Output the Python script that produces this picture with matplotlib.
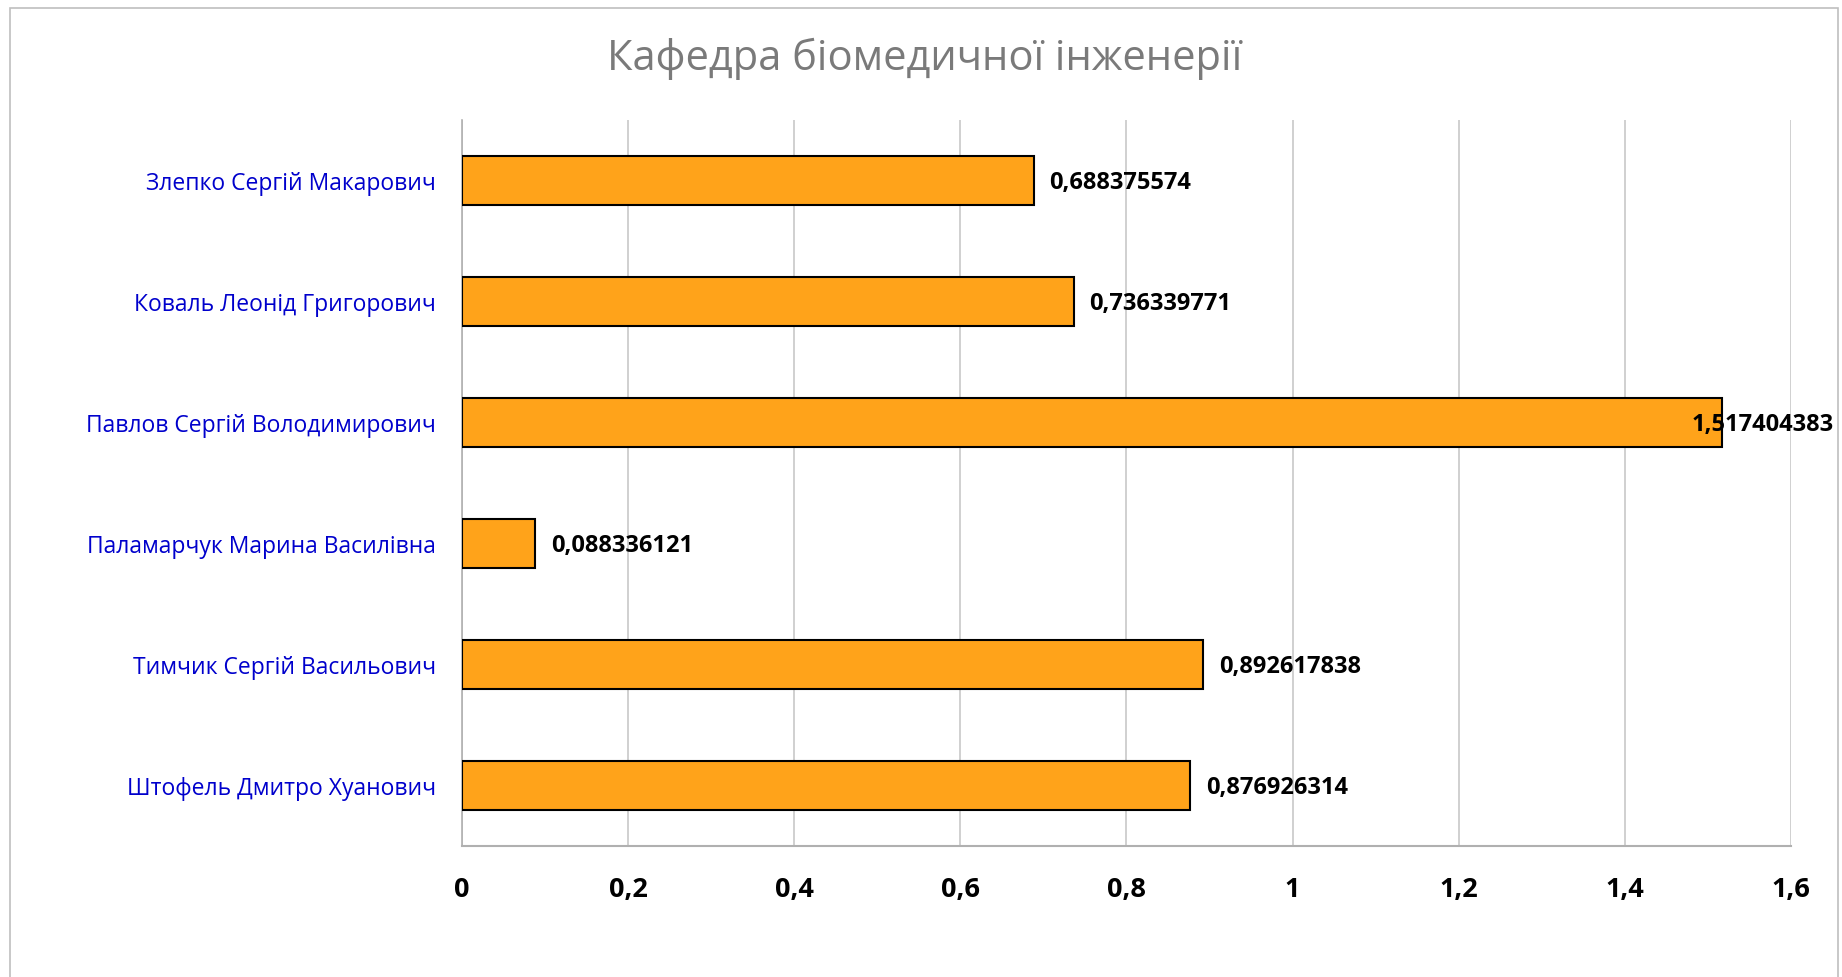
import matplotlib
matplotlib.use("Agg")
import matplotlib.pyplot as plt
from matplotlib.patches import Rectangle

categories = [
    "Злепко Сергій Макарович",
    "Коваль Леонід Григорович",
    "Павлов Сергій Володимирович",
    "Паламарчук Марина Василівна",
    "Тимчик Сергій Васильович",
    "Штофель Дмитро Хуанович",
]
values = [0.688375574, 0.736339771, 1.517404383, 0.088336121, 0.892617838, 0.876926314]
value_labels = ["0,688375574", "0,736339771", "1,517404383", "0,088336121", "0,892617838", "0,876926314"]
xticks = [0, 0.2, 0.4, 0.6, 0.8, 1.0, 1.2, 1.4, 1.6]
xtick_labels = ["0", "0,2", "0,4", "0,6", "0,8", "1", "1,2", "1,4", "1,6"]
title = "Кафедра біомедичної інженерії"

plt.rcParams['font.family'] = ['Open Sans', 'DejaVu Sans']

fig = plt.figure(figsize=(18.42, 9.77), dpi=100)
ax = fig.add_axes([0.2508, 0.134, 0.7215, 0.743])

ypos = list(range(len(categories)))
ax.barh(ypos, values, height=0.4, color="#FFA31A", edgecolor="black", linewidth=1.5, zorder=3)
ax.set_ylim(len(categories) - 0.5, -0.5)
ax.set_xlim(0, 1.6)
ax.set_xticks(xticks)
ax.set_xticklabels(xtick_labels, fontsize=19.5, fontweight="bold")
ax.set_yticks(ypos)
ax.set_yticklabels(categories, fontsize=16.5, color="#0000CC")
ax.tick_params(axis="both", length=0)
ax.tick_params(axis="x", pad=22)
ax.tick_params(axis="y", pad=18.5)
ax.grid(axis="x", color="#c8c8c8", linewidth=1.2, zorder=0)
for s in ["top", "right"]:
    ax.spines[s].set_visible(False)
ax.spines["bottom"].set_color("#b0b0b0")
ax.spines["bottom"].set_linewidth(1.5)
ax.spines["left"].set_color("#b0b0b0")
ax.spines["left"].set_linewidth(1.2)

vmax = max(values)
for y, v, lab in zip(ypos, values, value_labels):
    dx = -22 if v == vmax else 11
    ax.annotate(lab, (v, y), xytext=(dx, -1.5), textcoords="offset points",
                ha="left", va="center", fontsize=17, fontweight="bold", color="black", zorder=5)

fig.text(0.502, 0.94, title, ha="center", va="center", fontsize=30, color="#7a7a7a")

fig.patches.append(Rectangle((10 / 1842, -0.01), (1838 - 10) / 1842, 1 - 8 / 977 + 0.01,
                             transform=fig.transFigure, fill=False, edgecolor="#bfbfbf", linewidth=1.2))

fig.savefig("out.png", dpi=100)
